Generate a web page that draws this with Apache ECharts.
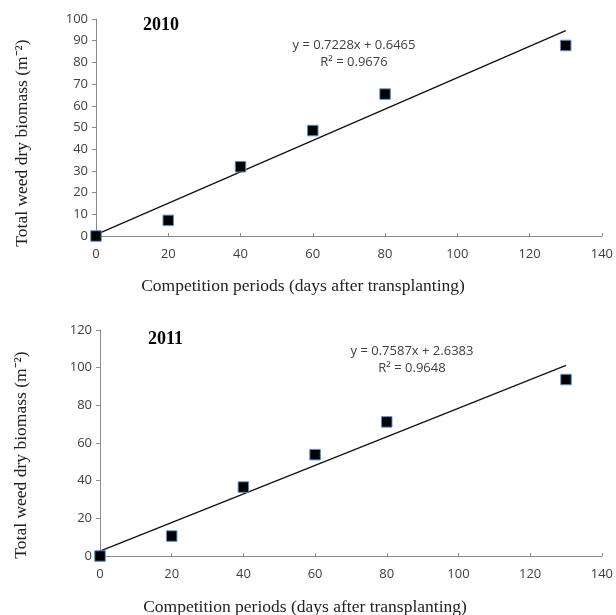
<!DOCTYPE html>
<html><head><meta charset="utf-8">
<script src="https://cdn.jsdelivr.net/npm/echarts@6/dist/echarts.min.js"></script>
<style>html,body{margin:0;padding:0;background:#fff}#c{width:616px;height:615px}</style>
</head><body><div id="c"></div>
<script>
const days = [0, 20, 40, 60, 80, 130];
const biomass2010 = [0, 7.2, 31.9, 48.6, 65.4, 87.8];
const biomass2011 = [0, 10.6, 36.6, 53.8, 71.2, 93.7];
const slopes = [0.7228, 0.7587];
const intercepts = [0.6465, 2.6383];
const years = ['2010', '2011'];
const eqLabels = ['y = 0.7228x + 0.6465', 'y = 0.7587x + 2.6383'];
const r2Labels = ['R\u00b2 = 0.9676', 'R\u00b2 = 0.9648'];
const yMax = [100, 120];
const yInterval = [10, 20];
const xTitle = 'Competition periods (days after transplanting)';
const yTitle = 'Total weed dry biomass (m\u207b\u00b2)';

const chart = echarts.init(document.getElementById('c'));
const grids = [
  {left: 96, top: 19, width: 508, height: 217},
  {left: 100, top: 330, width: 502, height: 226}
];
const axisColor = '#8c8c8c';
const sans = 'Open Sans, Liberation Sans, sans-serif';
const labelFont = {color: '#404040', fontSize: 13, fontFamily: sans};
const serif = 'Liberation Serif, Times New Roman, serif';

const xAxis = grids.map((g, i) => ({
  type: 'value', gridIndex: i, min: 0, max: 140, interval: 20,
  axisLine: {show: true, lineStyle: {color: axisColor, width: 1}},
  axisTick: {show: true, inside: true, length: 3, lineStyle: {color: axisColor}},
  splitLine: {show: false},
  axisLabel: Object.assign({margin: 12}, labelFont)
}));
const yAxis = grids.map((g, i) => ({
  type: 'value', gridIndex: i, min: 0, max: yMax[i], interval: yInterval[i],
  axisLine: {show: true, lineStyle: {color: axisColor, width: 1}},
  axisTick: {show: true, length: 4, lineStyle: {color: axisColor}},
  splitLine: {show: false},
  axisLabel: Object.assign({margin: 8}, labelFont)
}));

const data = [biomass2010, biomass2011];
const series = [];
data.forEach((vals, i) => {
  series.push({
    type: 'line', xAxisIndex: i, yAxisIndex: i, symbol: 'none', silent: true,
    lineStyle: {color: '#111', width: 1.3},
    data: [[0, intercepts[i]], [130, slopes[i] * 130 + intercepts[i]]],
    z: 2
  });
  series.push({
    type: 'scatter', xAxisIndex: i, yAxisIndex: i, symbol: 'rect', symbolSize: 10.5,
    itemStyle: {color: '#000', borderColor: '#5b8fd0', borderWidth: 1, opacity: 1},
    data: days.map((d, k) => [d, vals[k]]),
    z: 3
  });
});

const graphic = [];
const yearPos = [[143, 25], [148, 339]];
const eqPos = [[354, 45], [412, 351]];
const xTitlePos = [[303, 286], [305, 607]];
const yTitlePos = [[22, 143], [21, 455]];
years.forEach((y, i) => {
  graphic.push({type: 'text', x: yearPos[i][0], y: yearPos[i][1],
    style: {text: y, font: 'bold 18px ' + serif, fill: '#000', verticalAlign: 'middle'}});
  graphic.push({type: 'text', x: eqPos[i][0], y: eqPos[i][1],
    style: {text: eqLabels[i], font: '13px ' + sans, fill: '#404040', align: 'center', verticalAlign: 'middle'}});
  graphic.push({type: 'text', x: eqPos[i][0], y: eqPos[i][1] + 17,
    style: {text: r2Labels[i], font: '13px ' + sans, fill: '#404040', align: 'center', verticalAlign: 'middle'}});
  graphic.push({type: 'text', x: xTitlePos[i][0], y: xTitlePos[i][1],
    style: {text: xTitle, font: '17.5px ' + serif, fill: '#222', align: 'center', verticalAlign: 'middle'}});
  graphic.push({type: 'text', x: yTitlePos[i][0], y: yTitlePos[i][1], rotation: Math.PI / 2,
    style: {text: yTitle, font: '17.5px ' + serif, fill: '#222', align: 'center', verticalAlign: 'middle'}});
});

chart.setOption({
  animation: false,
  grid: grids,
  xAxis, yAxis, series, graphic
});
</script></body></html>
